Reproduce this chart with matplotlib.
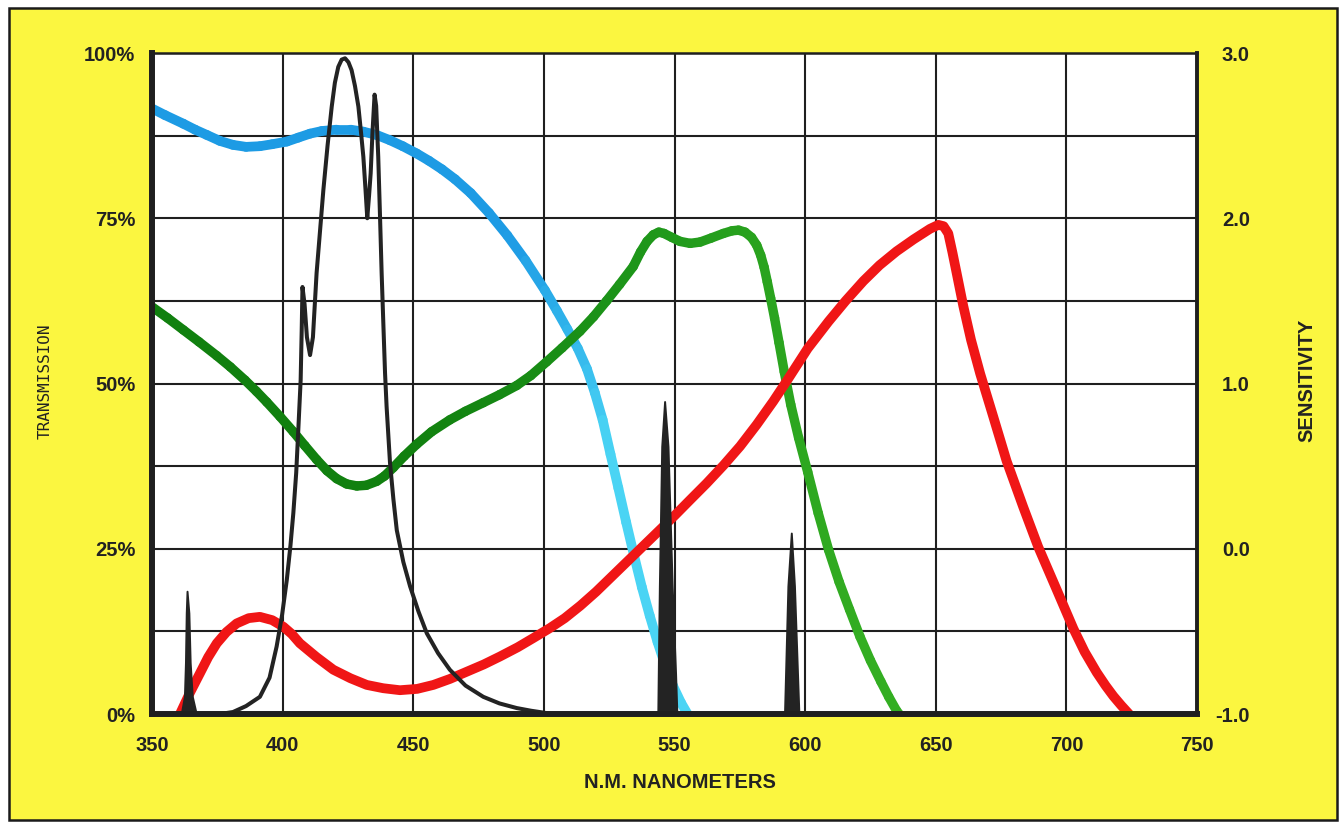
import numpy as np
import matplotlib
matplotlib.use('Agg')
import matplotlib.pyplot as plt
from matplotlib.collections import LineCollection
from matplotlib.colors import LinearSegmentedColormap, Normalize
from matplotlib.patches import Rectangle
from matplotlib.ticker import MultipleLocator

# ---------------- data ----------------
blue_nm = [350, 355, 362, 366.5, 371, 376, 381, 386, 391.3, 396, 401.6, 406, 410.5, 415,
           420.7, 426, 430.9, 436, 441.1, 446, 451.3, 456, 461, 466, 472, 479, 486,
           493, 500.4, 505, 509, 513, 516.5, 519.5, 522.5, 525.5, 528.5, 531.5, 534.5,
           537.5, 540.5, 543.5, 546.5, 549.5, 552.5, 555]
blue_T = [91.6, 90.6, 89.3, 88.4, 87.6, 86.7, 86.1, 85.8, 85.9, 86.2, 86.6, 87.2, 87.8, 88.2,
          88.4, 88.4, 88.1, 87.6, 86.8, 85.9, 84.8, 83.7, 82.4, 80.9, 78.8, 75.8, 72.4,
          68.6, 64.1, 61.0, 58.2, 55.3, 52.2, 48.6, 44.5, 39.3, 34.2, 29.0, 24.0,
          19.2, 14.9, 10.9, 7.3, 4.2, 1.7, 0.0]

green_nm = [350, 356, 362, 368, 374.8, 380, 385.6, 390, 393.9, 399, 404.1, 408.5, 413,
            417, 420.7, 424.5, 428.4, 432, 436, 439, 442.4, 446.5, 451.3, 457, 464, 470,
            476.8, 483, 489.6, 495, 501.1, 507, 513.8, 519, 524, 529, 534.2, 537, 539.5,
            541.9, 544, 546, 549, 552.1, 556, 559.8, 564, 568.7, 572, 574.5, 577, 579.5,
            581.5, 583, 584.3, 585.5, 586.8, 588.3, 590, 592, 594.5, 597.5, 601, 605, 609,
            613, 617, 621, 625, 629, 632, 635, 636]
green_T = [61.6, 59.9, 58.1, 56.3, 54.2, 52.5, 50.5, 48.8, 47.2, 45.0, 42.7, 40.6, 38.5,
           36.8, 35.6, 34.8, 34.5, 34.6, 35.2, 36.0, 37.3, 39.0, 40.8, 42.7, 44.5, 45.8,
           47.1, 48.3, 49.7, 51.2, 53.3, 55.4, 57.9, 60.1, 62.5, 65.0, 67.7, 69.9, 71.5,
           72.5, 72.9, 72.7, 72.1, 71.5, 71.2, 71.4, 72.0, 72.7, 73.1, 73.2, 72.9, 72.1,
           70.9, 69.4, 67.6, 65.4, 62.9, 59.9, 56.2, 51.8, 46.8, 41.8, 36.6, 30.4, 24.8,
           20.0, 15.8, 11.7, 8.1, 4.9, 2.6, 0.5, 0.0]

red_nm = [360.7, 364.5, 368.4, 371.5, 374.8, 378.5, 382.4, 387, 391.3, 396, 400.3, 403.5,
          406.6, 413, 419.4, 426, 432.2, 438.5, 444.9, 451.5, 457.7, 464, 470.5, 477, 483.2,
          490, 496, 502.3, 508, 514, 520, 526, 532, 538, 544, 550, 556, 562.3, 568.7,
          575.1, 581.5, 587.8, 593, 601, 609, 615.5, 622.3, 628.5, 635, 641.5, 647.8,
          651, 653, 654.8, 656.4, 658, 660.5, 663.5, 667, 672, 677.1, 683.5, 689.2, 696.3,
          702.7, 707, 711.6, 715, 718, 721, 724]
red_T = [0.0, 3.2, 6.2, 8.6, 10.7, 12.4, 13.7, 14.5, 14.7, 14.2, 13.2, 12.1,
         10.7, 8.6, 6.7, 5.4, 4.4, 3.9, 3.6, 3.8, 4.4, 5.3, 6.4, 7.5, 8.7,
         10.1, 11.5, 13.0, 14.5, 16.4, 18.5, 20.8, 23.1, 25.4, 27.7, 30.0, 32.4, 34.9, 37.6,
         40.5, 43.8, 47.3, 50.4, 55.3, 59.4, 62.5, 65.5, 67.9, 70.0, 71.8, 73.4,
         74.0, 73.8, 72.7, 69.8, 66.7, 61.8, 56.6, 51.5, 45.0, 38.3, 31.3, 25.3, 18.8,
         12.9, 9.4, 6.3, 4.3, 2.7, 1.3, 0.0]

lamp_nm = [376, 381, 386, 391.3, 395, 397.7, 399.8, 401.6, 403, 404.1, 405.2, 406, 406.9,
           407.3, 407.6, 408.4, 409.3, 410.5, 411.6, 413, 414.3, 415.6, 417.2, 418.8, 420,
           421.3, 422.6, 423.9, 425.2, 426.4, 427.7, 429, 430, 430.9, 431.7, 432.4, 433.1,
           433.7, 434.4, 435.2, 435.8, 436.6, 437.3, 437.9, 438.6, 439.2, 439.8, 441.1,
           442.4, 443.7, 446.2, 448.8, 452, 455.2, 459.5, 464, 470, 476.8, 483, 489.6,
           495, 500, 503]
lamp_T = [0.0, 0.3, 1.2, 2.6, 5.5, 10.2, 15.0, 20.3, 25.5, 30.4, 36.5, 43.0, 50.5,
          58.0, 64.6, 62.0, 57.0, 54.3, 57.0, 66.7, 73.0, 79.3, 86.0, 91.9, 95.5,
          97.9, 99.0, 99.2, 98.6, 97.4, 95.0, 91.9, 88.0, 84.3, 79.5, 75.0, 78.5,
          81.8, 88.0, 93.7, 92.0, 84.3, 75.0, 66.7, 58.5, 51.6, 46.5, 38.0,
          32.5, 27.8, 23.0, 19.3, 15.5, 12.2, 9.2, 6.7, 4.3, 2.6, 1.6, 0.9,
          0.5, 0.2, 0.0]

spike1_nm = [361.4, 362.6, 363.0, 363.3, 363.6, 364.3, 364.8, 365.6, 367.1]
spike1_T = [0, 2.6, 7.7, 15.2, 18.5, 15.2, 7.7, 2.6, 0]
spike2_nm = [543.8, 544.1, 544.4, 545.3, 546.4, 547.7, 549.3, 550.6, 551.1]
spike2_T = [0, 10, 19.3, 40.4, 47.2, 40.4, 19.3, 6, 0]
spike3_nm = [592.3, 593.6, 594.9, 596.1, 597.8]
spike3_T = [0, 19.3, 27.3, 19.3, 0]

x_ticks = [350, 400, 450, 500, 550, 600, 650, 700, 750]
x_labels = ['350', '400', '450', '500', '550', '600', '650', '700', '750']
left_ticks = [0, 25, 50, 75, 100]
left_labels = ['0%', '25%', '50%', '75%', '100%']
right_ticks = [-1, 0, 1, 2, 3]
right_labels = ['-1.0', '0.0', '1.0', '2.0', '3.0']

# ---------------- figure ----------------
W, H = 1344, 822
fig = plt.figure(figsize=(W / 100, H / 100), dpi=100)
fig.patch.set_facecolor('white')
fig.patches.append(Rectangle((9 / W, 1 - 820 / H), (1337 - 9) / W, (820 - 8) / H,
                             transform=fig.transFigure, facecolor='#FBF640',
                             edgecolor='#1a1a1a', linewidth=1.8, zorder=-10))

L, R, T_, B = 152, 1197, 53, 714
ax = fig.add_axes([L / W, 1 - B / H, (R - L) / W, (B - T_) / H])
ax.set_facecolor('white')
ax.set_xlim(350, 750)
ax.set_ylim(0, 100)

ink = '#1f1f1f'
tick_font = dict(family=['Liberation Sans', 'DejaVu Sans'], weight='bold', size=14.5,
                 color='#222222')

ax.set_xticks(x_ticks)
ax.set_xticklabels(x_labels, **tick_font)
ax.set_yticks(left_ticks)
ax.set_yticklabels(left_labels, **tick_font)
ax.yaxis.set_minor_locator(MultipleLocator(12.5))
ax.set_axisbelow(True)
ax.grid(which='major', axis='both', color=ink, linewidth=1.5)
ax.grid(which='minor', axis='y', color=ink, linewidth=1.5)
ax.tick_params(which='both', length=0)
ax.tick_params(axis='y', pad=12)
ax.tick_params(axis='x', pad=16)

for side, lw in [('left', 4.3), ('bottom', 4.3), ('right', 2.8), ('top', 1.8)]:
    ax.spines[side].set_linewidth(lw)
    ax.spines[side].set_color(ink)
    ax.spines[side].set_zorder(8)


def grad_line(x, y, cvals, cmap, norm, lw, z):
    pts = np.column_stack([x, y])
    segs = np.stack([pts[:-1], pts[1:]], axis=1)
    cv = np.asarray(cvals, dtype=float)
    lc = LineCollection(segs, cmap=cmap, norm=norm, linewidths=lw,
                        capstyle='round', joinstyle='round', zorder=z)
    lc.set_array((cv[:-1] + cv[1:]) / 2)
    ax.add_collection(lc)


blue_cmap = LinearSegmentedColormap.from_list('b', ['#4AD4F4', '#1D9BE4'])
grad_line(blue_nm, blue_T, blue_T, blue_cmap, Normalize(40, 72), 7.0, 3)

green_cmap = LinearSegmentedColormap.from_list('g', ['#11800F', '#1E961A', '#33AE22'])
grad_line(green_nm, green_T, green_nm, green_cmap, Normalize(450, 625), 6.8, 3)

ax.plot(red_nm, red_T, color='#F01616', linewidth=7.0, solid_capstyle='round',
        solid_joinstyle='round', zorder=4)

ax.plot(lamp_nm, lamp_T, color='#232323', linewidth=2.9, solid_joinstyle='round',
        solid_capstyle='round', zorder=6)
for snm, sT in [(spike1_nm, spike1_T), (spike2_nm, spike2_T), (spike3_nm, spike3_T)]:
    ax.fill(snm, sT, facecolor='#232323', edgecolor='#232323', linewidth=1.4,
            joinstyle='round', zorder=6)

ax2 = ax.twinx()
ax2.set_ylim(-1, 3)
ax2.set_yticks(right_ticks)
ax2.set_yticklabels(right_labels, ha='right', **tick_font)
ax2.tick_params(length=0, pad=38)
for s in ax2.spines.values():
    s.set_visible(False)

fig.text(680 / W, 1 - 782 / H, 'N.M. NANOMETERS', ha='center', va='center',
         family=['Liberation Sans', 'DejaVu Sans'], weight='bold', size=14.5, color='#222222')
fig.text(45 / W, 1 - 381 / H, 'TRANSMISSION', ha='center', va='center', rotation=90,
         family=['DejaVu Sans Mono'], size=11.5, color='#222222')
fig.text(1307 / W, 1 - 380 / H, 'SENSITIVITY', ha='center', va='center', rotation=90,
         family=['Liberation Sans', 'DejaVu Sans'], weight='bold', size=14.5, color='#222222')

fig.savefig('out.png', dpi=100, facecolor=fig.get_facecolor())
